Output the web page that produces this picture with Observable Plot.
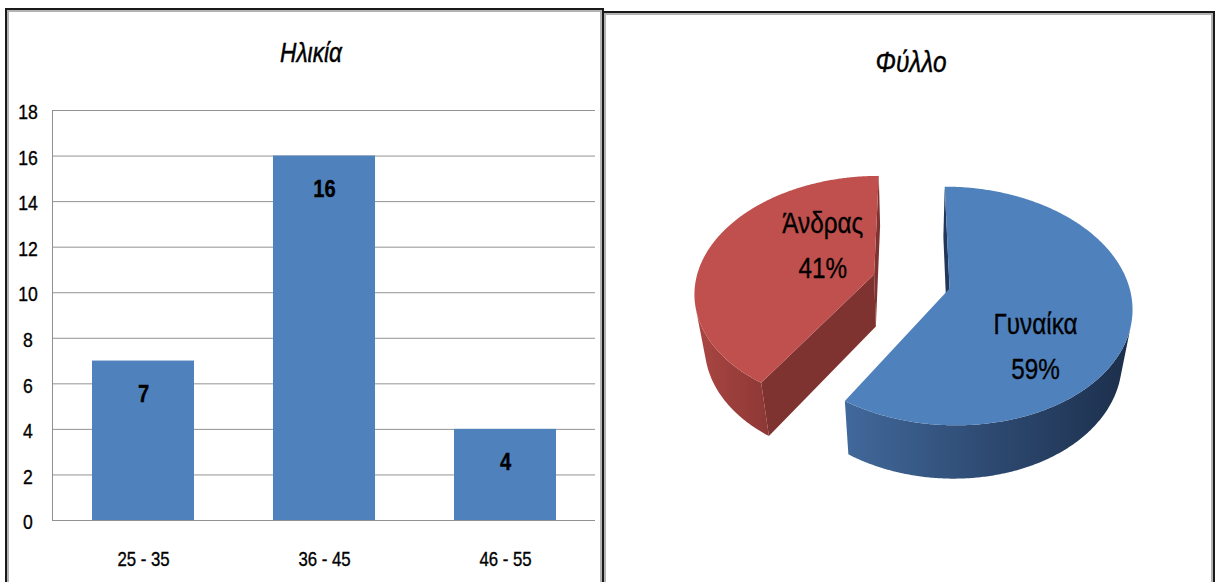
<!DOCTYPE html>
<html>
<head>
<meta charset="utf-8">
<script src="https://cdn.jsdelivr.net/npm/d3@7"></script>
<script src="https://cdn.jsdelivr.net/npm/@observablehq/plot@0.6"></script>
<style>
  html, body { margin: 0; padding: 0; background: #fff; width: 1216px; height: 582px; overflow: hidden; }
  body { position: relative; font-family: "Liberation Sans", Arial, sans-serif; }
  .panel { position: absolute; box-sizing: border-box; border: 2px solid #1a1a1a; box-shadow: inset 0 0 0 2px #b3b3b3; pointer-events: none; z-index: 5; }
  .title { position: absolute; width: 300px; text-align: center; font-style: italic; color: #000; line-height: 1; white-space: nowrap; z-index: 6; transform: scaleX(0.84); transform-origin: center; -webkit-text-stroke: 0.45px #000; }
  #bar { position: absolute; left: 0; top: 0; }
  #pie { position: absolute; left: 603px; top: 0; }
  svg text { stroke: currentColor; stroke-width: 0.35px; }
</style>
</head>
<body>
<div id="bar"></div>
<div id="pie"></div>
<div class="panel" style="left:5px; top:8px; width:599px; height:600px;"></div>
<div class="panel" style="left:602px; top:11px; width:613px; height:600px;"></div>
<div class="title" style="left:161px; top:40px; font-size:27px;">Ηλικία</div>
<div class="title" style="left:761px; top:48px; font-size:29px;">Φύλλο</div>
<script>
// ---------- data ----------
const ageCategories = ["25 - 35", "36 - 45", "46 - 55"];
const ageCounts = [7, 16, 4];
const ageTicks = [0, 2, 4, 6, 8, 10, 12, 14, 16, 18];

const genderCategories = ["Γυναίκα", "Άνδρας"];
const genderPercents = [59, 41];

// ---------- styles ----------
const FONT = '"Liberation Sans", Arial, sans-serif';
const CONDENSE = 0.84;

// narrow the glyphs of every text element around its own anchor point
function condense(svg, k) {
  svg.querySelectorAll("text").forEach(t => {
    const tr = t.getAttribute("transform") || "";
    const x = +t.getAttribute("x") || 0, y = +t.getAttribute("y") || 0;
    t.setAttribute("transform", `${tr} translate(${x},${y}) scale(${k},1) translate(${-x},${-y})`);
  });
}

// ---------- bar chart ----------
const ageData = ageCategories.map((c, i) => ({cat: c, n: ageCounts[i]}));

function leftAxisLine(index, scales, values, dims) {
  const g = d3.create("svg:g");
  g.append("line")
    .attr("x1", dims.marginLeft + 0.5).attr("x2", dims.marginLeft + 0.5)
    .attr("y1", dims.marginTop).attr("y2", dims.height - dims.marginBottom + 0.5)
    .attr("stroke", "#8f8f8f");
  return g.node();
}

const barChart = Plot.plot({
  width: 603, height: 582,
  marginLeft: 52, marginRight: 8, marginTop: 110, marginBottom: 62,
  style: {background: "transparent", fontFamily: FONT, fontSize: "21px", color: "#000"},
  x: {domain: ageCategories, paddingInner: 0.4365, paddingOuter: 0.215},
  y: {domain: [0, 18]},
  marks: [
    Plot.gridY(ageTicks, {stroke: "#929292", strokeOpacity: 1}),
    leftAxisLine,
    Plot.barY(ageData, {x: "cat", y: "n", fill: "#4f81bd"}),
    Plot.text(ageData, {x: "cat", y: "n", text: d => String(d.n), dy: 33, fontSize: 24, fontWeight: "bold", fill: "#000"}),
    Plot.axisY(ageTicks, {tickSize: 0, tickPadding: 24.5, textAnchor: "middle", dy: 2, label: null, fontSize: 21}),
    Plot.axisX({tickSize: 0, tickPadding: 31, label: null, fontSize: 20})
  ]
});
condense(barChart, CONDENSE);
document.getElementById("bar").append(barChart);

// ---------- 3D exploded pie ----------
const genderData = genderCategories.map((c, i) => ({cat: c, pct: genderPercents[i]}));
const arcs = d3.pie().sort(null).value(d => d.pct)(genderData);

const W = 613, H = 582;
const P = {cx: 308, cy: 281, K: 948, D: 5.31, elev: 40 * Math.PI / 180, explode: 0.22, depth: 0.40};
const ce = Math.cos(P.elev), se = Math.sin(P.elev);
const cam = {X: 0, Z: P.D * ce};
function project(X, Z, Hh) {
  const d = P.D - Z * ce - Hh * se;
  return {x: P.cx + P.K * X / d, y: P.cy + P.K * (Z * se - Hh * ce) / d};
}
const dir = a => [Math.sin(a), -Math.cos(a)];

const sliceStyle = {
  "Γυναίκα": {top: "#4f81bd", cut: "#22385a", side: ["#41699b", "#2e4a72", "#1c2f4b"]},
  "Άνδρας": {top: "#c0504d", cut: "#7e3330", side: ["#aa4643", "#8d3835"]}
};

const polys = []; // {id, layer, fill, pts}
arcs.forEach((a, i) => {
  const name = a.data.cat;
  const st = sliceStyle[name];
  const mid = (a.startAngle + a.endAngle) / 2;
  const [ex, ez] = dir(mid);
  const ox = ex * P.explode, oz = ez * P.explode;
  const n = Math.ceil((a.endAngle - a.startAngle) / (Math.PI / 360));
  const angles = d3.range(n + 1).map(k => a.startAngle + (a.endAngle - a.startAngle) * k / n);

  // top face
  const top = [project(ox, oz, 0)];
  angles.forEach(t => { const [dx, dz] = dir(t); top.push(project(ox + dx, oz + dz, 0)); });
  top.push(project(ox, oz, 0));
  polys.push({id: "top" + i, layer: 2, fill: st.top, pts: top});

  // outer wall (visible portion)
  const vis = angles.filter(t => {
    const [nx, nz] = dir(t);
    const px = ox + nx, pz = oz + nz;
    return nx * (cam.X - px) + nz * (cam.Z - pz) > 0;
  });
  if (vis.length > 1) {
    const upper = vis.map(t => { const [dx, dz] = dir(t); return project(ox + dx, oz + dz, 0); });
    const lower = vis.slice().reverse().map(t => { const [dx, dz] = dir(t); return project(ox + dx, oz + dz, -P.depth); });
    polys.push({id: "side" + i, layer: 0, fill: `url(#side${i})`, pts: upper.concat(lower)});
  }

  // cut faces
  [[a.startAngle, a.startAngle - Math.PI / 2], [a.endAngle, a.endAngle + Math.PI / 2]].forEach(([t, nt], j) => {
    const [nx, nz] = dir(nt);
    if (nx * (cam.X - ox) + nz * (cam.Z - oz) <= 0) return;
    const [dx, dz] = dir(t);
    const pts = [project(ox, oz, 0), project(ox + dx, oz + dz, 0), project(ox + dx, oz + dz, -P.depth), project(ox, oz, -P.depth)];
    polys.push({id: "cut" + i + "_" + j, layer: 1, fill: st.cut, pts});
  });
});

const polyMarks = polys
  .sort((p, q) => p.layer - q.layer)
  .map(p => Plot.line(p.pts, {x: "x", y: "y", fill: p.fill, stroke: "none", curve: "linear-closed"}));

// labels
const labelNudge = {"Γυναίκα": [15, 40], "Άνδρας": [15, -21]};
const labelData = arcs.map(a => {
  const mid = (a.startAngle + a.endAngle) / 2;
  const [ex, ez] = dir(mid);
  const r = 0.4;
  const p = project(ex * (P.explode + r), ez * (P.explode + r), 0);
  const [nx, ny] = labelNudge[a.data.cat];
  return {x: p.x + nx, y: p.y + ny, text: `${a.data.cat}\n${a.data.pct}%`};
});

const pieChart = Plot.plot({
  width: W, height: H,
  margin: 0,
  style: {background: "transparent", fontFamily: FONT, color: "#000"},
  x: {domain: [0, W], range: [0, W], axis: null},
  y: {domain: [0, H], range: [0, H], axis: null},
  marks: [
    ...polyMarks,
    Plot.text(labelData, {x: "x", y: "y", text: "text", fontSize: 30, lineHeight: 1.5, fill: "#000"})
  ]
});

const defs = d3.select(pieChart).insert("defs", ":first-child");
arcs.forEach((a, i) => {
  const stops = sliceStyle[a.data.cat].side;
  const g = defs.append("linearGradient").attr("id", "side" + i).attr("x1", 0).attr("x2", 1).attr("y1", 0).attr("y2", 0);
  stops.forEach((c, k) => g.append("stop").attr("offset", k / (stops.length - 1)).attr("stop-color", c));
});
condense(pieChart, 0.81);
document.getElementById("pie").append(pieChart);
</script>
</body>
</html>
